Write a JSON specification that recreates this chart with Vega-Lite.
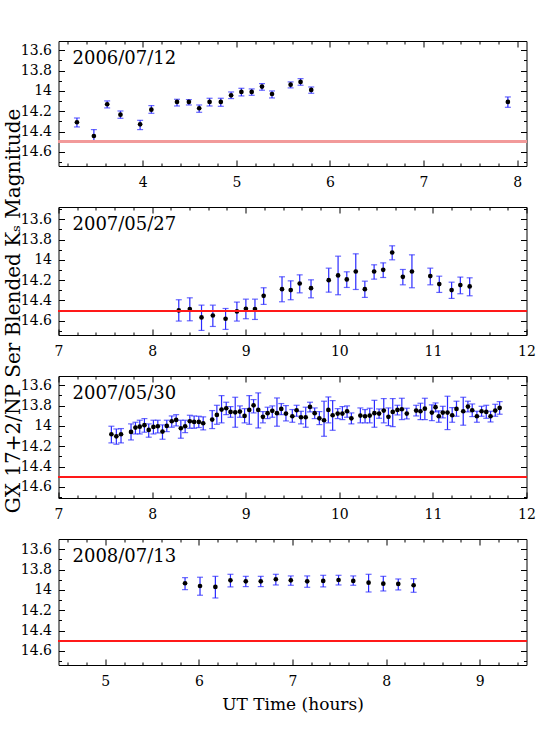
{
"$schema": "https://vega.github.io/schema/vega-lite/v6.json",
"background": "white",
"padding": {"left": 3.5, "top": 40, "right": 5, "bottom": 5},
"bounds": "flush",
"spacing": 41,
"title": {"text": "GX 17+2/NP Ser Blended Kₛ Magnitude", "orient": "left", "anchor": "middle", "frame": "group", "dx": -270, "offset": -4, "fontSize": 20, "font": "DejaVu Serif", "fontWeight": "normal", "color": "black"},
"datasets": {
"p1": [
{"t":3.297,"m":14.308,"lo":14.266,"hi":14.354},
{"t":3.478,"m":14.443,"lo":14.38,"hi":14.502},
{"t":3.62,"m":14.131,"lo":14.098,"hi":14.167},
{"t":3.762,"m":14.233,"lo":14.197,"hi":14.269},
{"t":3.972,"m":14.328,"lo":14.289,"hi":14.38},
{"t":4.092,"m":14.184,"lo":14.144,"hi":14.22},
{"t":4.366,"m":14.108,"lo":14.082,"hi":14.148},
{"t":4.493,"m":14.108,"lo":14.085,"hi":14.138},
{"t":4.603,"m":14.17,"lo":14.138,"hi":14.21},
{"t":4.714,"m":14.108,"lo":14.072,"hi":14.148},
{"t":4.834,"m":14.108,"lo":14.072,"hi":14.151},
{"t":4.944,"m":14.043,"lo":14.01,"hi":14.075},
{"t":5.054,"m":14.01,"lo":13.974,"hi":14.049},
{"t":5.164,"m":14.01,"lo":13.98,"hi":14.043},
{"t":5.274,"m":13.957,"lo":13.928,"hi":13.993},
{"t":5.381,"m":14.03,"lo":14.0,"hi":14.069},
{"t":5.58,"m":13.938,"lo":13.911,"hi":13.97},
{"t":5.686,"m":13.911,"lo":13.879,"hi":13.944},
{"t":5.8,"m":13.99,"lo":13.961,"hi":14.023},
{"t":7.901,"m":14.108,"lo":14.059,"hi":14.161}
],
"p2": [
{"t":8.285,"m":14.498,"lo":14.393,"hi":14.603},
{"t":8.403,"m":14.485,"lo":14.374,"hi":14.6},
{"t":8.528,"m":14.567,"lo":14.446,"hi":14.695},
{"t":8.649,"m":14.548,"lo":14.446,"hi":14.656},
{"t":8.785,"m":14.58,"lo":14.479,"hi":14.685},
{"t":8.906,"m":14.508,"lo":14.416,"hi":14.603},
{"t":9.002,"m":14.482,"lo":14.387,"hi":14.58},
{"t":9.099,"m":14.485,"lo":14.387,"hi":14.587},
{"t":9.192,"m":14.354,"lo":14.275,"hi":14.439},
{"t":9.388,"m":14.289,"lo":14.167,"hi":14.413},
{"t":9.481,"m":14.298,"lo":14.207,"hi":14.393},
{"t":9.577,"m":14.233,"lo":14.148,"hi":14.325},
{"t":9.698,"m":14.279,"lo":14.197,"hi":14.374},
{"t":9.887,"m":14.2,"lo":14.082,"hi":14.318},
{"t":9.987,"m":14.154,"lo":13.964,"hi":14.344},
{"t":10.08,"m":14.193,"lo":14.118,"hi":14.272},
{"t":10.176,"m":14.115,"lo":13.941,"hi":14.292},
{"t":10.273,"m":14.289,"lo":14.21,"hi":14.37},
{"t":10.372,"m":14.115,"lo":14.049,"hi":14.19},
{"t":10.469,"m":14.098,"lo":14.03,"hi":14.174},
{"t":10.565,"m":13.928,"lo":13.862,"hi":14.0},
{"t":10.679,"m":14.167,"lo":14.095,"hi":14.246},
{"t":10.776,"m":14.115,"lo":13.951,"hi":14.275},
{"t":10.972,"m":14.16,"lo":14.082,"hi":14.246},
{"t":11.068,"m":14.239,"lo":14.161,"hi":14.321},
{"t":11.2,"m":14.298,"lo":14.22,"hi":14.38},
{"t":11.293,"m":14.249,"lo":14.17,"hi":14.334},
{"t":11.393,"m":14.262,"lo":14.177,"hi":14.354}
],
"p3": [
{"t":7.565,"m":14.082,"lo":14.003,"hi":14.167},
{"t":7.618,"m":14.102,"lo":14.03,"hi":14.18},
{"t":7.668,"m":14.082,"lo":14.026,"hi":14.167},
{"t":7.775,"m":14.059,"lo":13.98,"hi":14.138},
{"t":7.822,"m":14.016,"lo":13.964,"hi":14.079},
{"t":7.868,"m":14.007,"lo":13.944,"hi":14.079},
{"t":7.918,"m":13.993,"lo":13.928,"hi":14.062},
{"t":7.964,"m":14.039,"lo":13.98,"hi":14.111},
{"t":8.014,"m":14.01,"lo":13.944,"hi":14.079},
{"t":8.061,"m":14.003,"lo":13.944,"hi":14.069},
{"t":8.111,"m":14.056,"lo":13.99,"hi":14.131},
{"t":8.157,"m":14.0,"lo":13.944,"hi":14.056},
{"t":8.21,"m":13.954,"lo":13.902,"hi":14.013},
{"t":8.257,"m":13.941,"lo":13.889,"hi":14.0},
{"t":8.307,"m":14.023,"lo":13.944,"hi":14.121},
{"t":8.353,"m":14.003,"lo":13.944,"hi":14.066},
{"t":8.403,"m":13.954,"lo":13.895,"hi":14.023},
{"t":8.449,"m":13.961,"lo":13.902,"hi":14.023},
{"t":8.499,"m":13.961,"lo":13.905,"hi":14.016},
{"t":8.546,"m":13.974,"lo":13.911,"hi":14.039},
{"t":8.642,"m":13.938,"lo":13.849,"hi":14.026},
{"t":8.692,"m":13.892,"lo":13.797,"hi":13.984},
{"t":8.742,"m":13.839,"lo":13.702,"hi":13.97},
{"t":8.792,"m":13.826,"lo":13.767,"hi":13.889},
{"t":8.838,"m":13.862,"lo":13.81,"hi":13.915},
{"t":8.888,"m":13.866,"lo":13.718,"hi":14.013},
{"t":8.938,"m":13.859,"lo":13.803,"hi":13.915},
{"t":8.988,"m":13.902,"lo":13.83,"hi":13.97},
{"t":9.038,"m":13.843,"lo":13.702,"hi":13.984},
{"t":9.084,"m":13.797,"lo":13.741,"hi":13.872},
{"t":9.134,"m":13.843,"lo":13.675,"hi":14.02},
{"t":9.184,"m":13.911,"lo":13.859,"hi":13.97},
{"t":9.234,"m":13.875,"lo":13.816,"hi":13.928},
{"t":9.284,"m":13.852,"lo":13.803,"hi":13.915},
{"t":9.334,"m":13.875,"lo":13.725,"hi":14.003},
{"t":9.38,"m":13.833,"lo":13.78,"hi":13.889},
{"t":9.43,"m":13.879,"lo":13.8,"hi":13.951},
{"t":9.498,"m":13.905,"lo":13.839,"hi":13.964},
{"t":9.544,"m":13.846,"lo":13.797,"hi":13.905},
{"t":9.591,"m":13.915,"lo":13.856,"hi":13.98},
{"t":9.641,"m":13.915,"lo":13.816,"hi":14.013},
{"t":9.687,"m":13.813,"lo":13.767,"hi":13.862},
{"t":9.737,"m":13.875,"lo":13.823,"hi":13.928},
{"t":9.787,"m":13.925,"lo":13.859,"hi":13.987},
{"t":9.837,"m":13.944,"lo":13.757,"hi":14.102},
{"t":9.883,"m":13.843,"lo":13.715,"hi":13.97},
{"t":9.929,"m":13.895,"lo":13.751,"hi":14.043},
{"t":9.983,"m":13.879,"lo":13.83,"hi":13.928},
{"t":10.033,"m":13.879,"lo":13.81,"hi":13.938},
{"t":10.083,"m":13.856,"lo":13.803,"hi":13.915},
{"t":10.129,"m":13.925,"lo":13.872,"hi":13.98},
{"t":10.225,"m":13.898,"lo":13.823,"hi":13.97},
{"t":10.275,"m":13.905,"lo":13.839,"hi":13.97},
{"t":10.325,"m":13.898,"lo":13.826,"hi":13.97},
{"t":10.375,"m":13.875,"lo":13.748,"hi":14.013},
{"t":10.425,"m":13.879,"lo":13.833,"hi":13.925},
{"t":10.475,"m":13.849,"lo":13.731,"hi":13.97},
{"t":10.525,"m":13.911,"lo":13.823,"hi":13.997},
{"t":10.571,"m":13.862,"lo":13.731,"hi":14.007},
{"t":10.621,"m":13.843,"lo":13.797,"hi":13.892},
{"t":10.668,"m":13.836,"lo":13.728,"hi":13.938},
{"t":10.721,"m":13.879,"lo":13.826,"hi":13.931},
{"t":10.821,"m":13.849,"lo":13.797,"hi":13.902},
{"t":10.867,"m":13.856,"lo":13.777,"hi":13.938},
{"t":10.914,"m":13.83,"lo":13.728,"hi":13.938},
{"t":10.989,"m":13.869,"lo":13.793,"hi":13.948},
{"t":11.028,"m":13.816,"lo":13.774,"hi":13.862},
{"t":11.063,"m":13.905,"lo":13.852,"hi":13.964},
{"t":11.106,"m":13.869,"lo":13.807,"hi":13.921},
{"t":11.156,"m":13.869,"lo":13.708,"hi":14.036},
{"t":11.206,"m":13.895,"lo":13.82,"hi":13.964},
{"t":11.252,"m":13.833,"lo":13.757,"hi":13.905},
{"t":11.324,"m":13.856,"lo":13.718,"hi":13.993},
{"t":11.374,"m":13.81,"lo":13.757,"hi":13.862},
{"t":11.42,"m":13.846,"lo":13.784,"hi":13.908},
{"t":11.47,"m":13.905,"lo":13.856,"hi":13.964},
{"t":11.52,"m":13.856,"lo":13.807,"hi":13.905},
{"t":11.57,"m":13.862,"lo":13.797,"hi":13.925},
{"t":11.616,"m":13.905,"lo":13.856,"hi":13.961},
{"t":11.666,"m":13.849,"lo":13.787,"hi":13.905},
{"t":11.713,"m":13.823,"lo":13.761,"hi":13.885}
],
"p4": [
{"t":5.852,"m":13.934,"lo":13.879,"hi":13.997},
{"t":6.012,"m":13.961,"lo":13.875,"hi":14.052},
{"t":6.176,"m":13.97,"lo":13.866,"hi":14.079},
{"t":6.337,"m":13.905,"lo":13.846,"hi":13.97},
{"t":6.501,"m":13.915,"lo":13.866,"hi":13.967},
{"t":6.661,"m":13.915,"lo":13.866,"hi":13.967},
{"t":6.822,"m":13.895,"lo":13.846,"hi":13.951},
{"t":6.982,"m":13.905,"lo":13.862,"hi":13.954},
{"t":7.157,"m":13.915,"lo":13.862,"hi":13.974},
{"t":7.328,"m":13.911,"lo":13.856,"hi":13.97},
{"t":7.492,"m":13.902,"lo":13.856,"hi":13.951},
{"t":7.649,"m":13.911,"lo":13.862,"hi":13.954},
{"t":7.813,"m":13.928,"lo":13.846,"hi":14.02},
{"t":7.97,"m":13.938,"lo":13.866,"hi":14.01},
{"t":8.13,"m":13.941,"lo":13.892,"hi":14.0},
{"t":8.294,"m":13.954,"lo":13.889,"hi":14.023}
]
},
"vconcat": [
{
"width": 468, "height": 125,
"data": {"name": "p1"},
"title": {"text": "2006/07/12", "anchor": "start", "frame": "group", "offset": -12, "dx": 14, "dy": 15, "baseline": "top"},
"resolve": {"axis": {"x": "independent", "y": "independent"}},
"layer": [
{"mark": {"type": "rule", "color": "#2a2aff", "strokeWidth": 1.2},
 "encoding": {
  "x": {"field": "t", "type": "quantitative", "scale": {"domain": [3.1, 8.1], "nice": false, "zero": false}, "axis": {"orient": "bottom", "values": [4,5,6,7,8], "tickSize": -6, "labelPadding": 15, "labelFlush": false, "labelOverlap": false, "title": null}},
  "y": {"field": "lo", "type": "quantitative", "scale": {"domain": [13.509, 14.738], "reverse": true, "nice": false, "zero": false}, "axis": {"orient": "left", "values": [13.6,13.8,14,14.2,14.4,14.6], "tickSize": -6, "labelPadding": 13, "labelExpr": "'' + datum.value", "title": null}},
  "y2": {"field": "hi"}}},
{"mark": {"type": "tick", "orient": "horizontal", "color": "#2a2aff", "size": 6, "thickness": 1.2},
 "encoding": {
  "x": {"field": "t", "type": "quantitative", "axis": {"orient": "bottom", "values": [3.2,3.4,3.6,3.8,4.2,4.4,4.6,4.8,5.2,5.4,5.6,5.8,6.2,6.4,6.6,6.8,7.2,7.4,7.6,7.8], "tickSize": -3, "labels": false, "title": null}},
  "y": {"field": "lo", "type": "quantitative", "axis": {"orient": "left", "values": [13.7,13.9,14.1,14.3,14.5,14.7], "tickSize": -3, "labels": false, "title": null}}}},
{"mark": {"type": "tick", "orient": "horizontal", "color": "#2a2aff", "size": 6, "thickness": 1.2},
 "encoding": {
  "x": {"field": "t", "type": "quantitative", "axis": {"orient": "top", "values": [4,5,6,7,8], "tickSize": -6, "labels": false, "title": null}},
  "y": {"field": "hi", "type": "quantitative", "axis": {"orient": "right", "values": [13.6,13.8,14,14.2,14.4,14.6], "tickSize": -6, "labels": false, "title": null}}}},
{"mark": {"type": "circle", "color": "black", "size": 22, "opacity": 1},
 "encoding": {
  "x": {"field": "t", "type": "quantitative", "axis": {"orient": "top", "values": [3.2,3.4,3.6,3.8,4.2,4.4,4.6,4.8,5.2,5.4,5.6,5.8,6.2,6.4,6.6,6.8,7.2,7.4,7.6,7.8], "tickSize": -3, "labels": false, "title": null}},
  "y": {"field": "m", "type": "quantitative", "axis": {"orient": "right", "values": [13.7,13.9,14.1,14.3,14.5,14.7], "tickSize": -3, "labels": false, "title": null}}}},
{"mark": {"type": "rule", "color": "#f29a9a", "strokeWidth": 2.5},
 "encoding": {"y": {"datum": 14.5, "type": "quantitative", "axis": null}}}
]
},
{
"width": 468, "height": 128,
"data": {"name": "p2"},
"title": {"text": "2007/05/27", "anchor": "start", "frame": "group", "offset": -12, "dx": 14, "dy": 15, "baseline": "top"},
"resolve": {"axis": {"x": "independent", "y": "independent"}},
"layer": [
{"mark": {"type": "rule", "color": "#2a2aff", "strokeWidth": 1.2},
 "encoding": {
  "x": {"field": "t", "type": "quantitative", "scale": {"domain": [7, 12], "nice": false, "zero": false}, "axis": {"orient": "bottom", "values": [7,8,9,10,11,12], "tickSize": -6, "labelPadding": 15, "labelFlush": false, "labelOverlap": false, "title": null}},
  "y": {"field": "lo", "type": "quantitative", "scale": {"domain": [13.48, 14.74], "reverse": true, "nice": false, "zero": false}, "axis": {"orient": "left", "values": [13.6,13.8,14,14.2,14.4,14.6], "tickSize": -6, "labelPadding": 13, "labelExpr": "'' + datum.value", "title": null}},
  "y2": {"field": "hi"}}},
{"mark": {"type": "tick", "orient": "horizontal", "color": "#2a2aff", "size": 6, "thickness": 1.2},
 "encoding": {
  "x": {"field": "t", "type": "quantitative", "axis": {"orient": "bottom", "values": [7.2,7.4,7.6,7.8,8.2,8.4,8.6,8.8,9.2,9.4,9.6,9.8,10.2,10.4,10.6,10.8,11.2,11.4,11.6,11.8], "tickSize": -3, "labels": false, "title": null}},
  "y": {"field": "lo", "type": "quantitative", "axis": {"orient": "left", "values": [13.5,13.7,13.9,14.1,14.3,14.5,14.7], "tickSize": -3, "labels": false, "title": null}}}},
{"mark": {"type": "tick", "orient": "horizontal", "color": "#2a2aff", "size": 6, "thickness": 1.2},
 "encoding": {
  "x": {"field": "t", "type": "quantitative", "axis": {"orient": "top", "values": [7,8,9,10,11,12], "tickSize": -6, "labels": false, "title": null}},
  "y": {"field": "hi", "type": "quantitative", "axis": {"orient": "right", "values": [13.6,13.8,14,14.2,14.4,14.6], "tickSize": -6, "labels": false, "title": null}}}},
{"mark": {"type": "circle", "color": "black", "size": 22, "opacity": 1},
 "encoding": {
  "x": {"field": "t", "type": "quantitative", "axis": {"orient": "top", "values": [7.2,7.4,7.6,7.8,8.2,8.4,8.6,8.8,9.2,9.4,9.6,9.8,10.2,10.4,10.6,10.8,11.2,11.4,11.6,11.8], "tickSize": -3, "labels": false, "title": null}},
  "y": {"field": "m", "type": "quantitative", "axis": {"orient": "right", "values": [13.5,13.7,13.9,14.1,14.3,14.5,14.7], "tickSize": -3, "labels": false, "title": null}}}},
{"mark": {"type": "rule", "color": "#ff1a1a", "strokeWidth": 1.2},
 "encoding": {"y": {"datum": 14.5, "type": "quantitative", "axis": null}}}
]
},
{
"width": 468, "height": 122,
"data": {"name": "p3"},
"title": {"text": "2007/05/30", "anchor": "start", "frame": "group", "offset": -12, "dx": 14, "dy": 15, "baseline": "top"},
"resolve": {"axis": {"x": "independent", "y": "independent"}},
"layer": [
{"mark": {"type": "rule", "color": "#2a2aff", "strokeWidth": 1.2},
 "encoding": {
  "x": {"field": "t", "type": "quantitative", "scale": {"domain": [7, 12], "nice": false, "zero": false}, "axis": {"orient": "bottom", "values": [7,8,9,10,11,12], "tickSize": -6, "labelPadding": 15, "labelFlush": false, "labelOverlap": false, "title": null}},
  "y": {"field": "lo", "type": "quantitative", "scale": {"domain": [13.509, 14.709], "reverse": true, "nice": false, "zero": false}, "axis": {"orient": "left", "values": [13.6,13.8,14,14.2,14.4,14.6], "tickSize": -6, "labelPadding": 13, "labelExpr": "'' + datum.value", "title": null}},
  "y2": {"field": "hi"}}},
{"mark": {"type": "tick", "orient": "horizontal", "color": "#2a2aff", "size": 6, "thickness": 1.2},
 "encoding": {
  "x": {"field": "t", "type": "quantitative", "axis": {"orient": "bottom", "values": [7.2,7.4,7.6,7.8,8.2,8.4,8.6,8.8,9.2,9.4,9.6,9.8,10.2,10.4,10.6,10.8,11.2,11.4,11.6,11.8], "tickSize": -3, "labels": false, "title": null}},
  "y": {"field": "lo", "type": "quantitative", "axis": {"orient": "left", "values": [13.7,13.9,14.1,14.3,14.5,14.7], "tickSize": -3, "labels": false, "title": null}}}},
{"mark": {"type": "tick", "orient": "horizontal", "color": "#2a2aff", "size": 6, "thickness": 1.2},
 "encoding": {
  "x": {"field": "t", "type": "quantitative", "axis": {"orient": "top", "values": [7,8,9,10,11,12], "tickSize": -6, "labels": false, "title": null}},
  "y": {"field": "hi", "type": "quantitative", "axis": {"orient": "right", "values": [13.6,13.8,14,14.2,14.4,14.6], "tickSize": -6, "labels": false, "title": null}}}},
{"mark": {"type": "circle", "color": "black", "size": 22, "opacity": 1},
 "encoding": {
  "x": {"field": "t", "type": "quantitative", "axis": {"orient": "top", "values": [7.2,7.4,7.6,7.8,8.2,8.4,8.6,8.8,9.2,9.4,9.6,9.8,10.2,10.4,10.6,10.8,11.2,11.4,11.6,11.8], "tickSize": -3, "labels": false, "title": null}},
  "y": {"field": "m", "type": "quantitative", "axis": {"orient": "right", "values": [13.7,13.9,14.1,14.3,14.5,14.7], "tickSize": -3, "labels": false, "title": null}}}},
{"mark": {"type": "rule", "color": "#ff1a1a", "strokeWidth": 1.2},
 "encoding": {"y": {"datum": 14.5, "type": "quantitative", "axis": null}}}
]
},
{
"width": 468, "height": 126,
"data": {"name": "p4"},
"title": {"text": "2008/07/13", "anchor": "start", "frame": "group", "offset": -12, "dx": 14, "dy": 15, "baseline": "top"},
"resolve": {"axis": {"x": "independent", "y": "independent"}},
"layer": [
{"mark": {"type": "rule", "color": "#2a2aff", "strokeWidth": 1.2},
 "encoding": {
  "x": {"field": "t", "type": "quantitative", "scale": {"domain": [4.5, 9.5], "nice": false, "zero": false}, "axis": {"orient": "bottom", "values": [5,6,7,8,9], "tickSize": -6, "labelPadding": 15, "labelFlush": false, "labelOverlap": false, "title": "UT Time (hours)", "titlePadding": 8, "titleFontSize": 17}},
  "y": {"field": "lo", "type": "quantitative", "scale": {"domain": [13.499, 14.738], "reverse": true, "nice": false, "zero": false}, "axis": {"orient": "left", "values": [13.6,13.8,14,14.2,14.4,14.6], "tickSize": -6, "labelPadding": 13, "labelExpr": "'' + datum.value", "title": null}},
  "y2": {"field": "hi"}}},
{"mark": {"type": "tick", "orient": "horizontal", "color": "#2a2aff", "size": 6, "thickness": 1.2},
 "encoding": {
  "x": {"field": "t", "type": "quantitative", "axis": {"orient": "bottom", "values": [4.6,4.8,5.2,5.4,5.6,5.8,6.2,6.4,6.6,6.8,7.2,7.4,7.6,7.8,8.2,8.4,8.6,8.8,9.2,9.4], "tickSize": -3, "labels": false, "title": null}},
  "y": {"field": "lo", "type": "quantitative", "axis": {"orient": "left", "values": [13.7,13.9,14.1,14.3,14.5,14.7], "tickSize": -3, "labels": false, "title": null}}}},
{"mark": {"type": "tick", "orient": "horizontal", "color": "#2a2aff", "size": 6, "thickness": 1.2},
 "encoding": {
  "x": {"field": "t", "type": "quantitative", "axis": {"orient": "top", "values": [5,6,7,8,9], "tickSize": -6, "labels": false, "title": null}},
  "y": {"field": "hi", "type": "quantitative", "axis": {"orient": "right", "values": [13.6,13.8,14,14.2,14.4,14.6], "tickSize": -6, "labels": false, "title": null}}}},
{"mark": {"type": "circle", "color": "black", "size": 22, "opacity": 1},
 "encoding": {
  "x": {"field": "t", "type": "quantitative", "axis": {"orient": "top", "values": [4.6,4.8,5.2,5.4,5.6,5.8,6.2,6.4,6.6,6.8,7.2,7.4,7.6,7.8,8.2,8.4,8.6,8.8,9.2,9.4], "tickSize": -3, "labels": false, "title": null}},
  "y": {"field": "m", "type": "quantitative", "axis": {"orient": "right", "values": [13.7,13.9,14.1,14.3,14.5,14.7], "tickSize": -3, "labels": false, "title": null}}}},
{"mark": {"type": "rule", "color": "#ff1a1a", "strokeWidth": 1.2},
 "encoding": {"y": {"datum": 14.5, "type": "quantitative", "axis": null}}}
]
}
],
"config": {
 "view": {"stroke": "black", "strokeWidth": 1},
 "axis": {"domain": false, "grid": false, "ticks": true, "tickColor": "black", "tickWidth": 1, "labelFont": "DejaVu Serif", "labelFontSize": 14, "labelColor": "black", "titleFont": "DejaVu Serif", "titleFontSize": 16, "titleColor": "black", "titleFontWeight": "normal"},
 "title": {"font": "DejaVu Serif", "fontSize": 18, "fontWeight": "normal", "color": "black"}
}
}
